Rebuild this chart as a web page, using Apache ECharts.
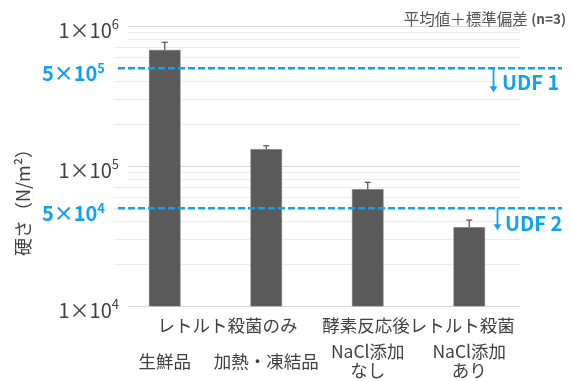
<!DOCTYPE html>
<html>
<head>
<meta charset="utf-8">
<script src="https://cdn.jsdelivr.net/npm/echarts@6/dist/echarts.min.js"></script>
<style>
  html, body { margin: 0; padding: 0; background: #ffffff; }
  #chart { width: 573px; height: 381px; }
</style>
</head>
<body>
<div id="chart"></div>
<script>
// Samples (lower label row) and their processing groups (upper label row)
const samples = ['生鮮品', '加熱・凍結品', 'NaCl添加\nなし', 'NaCl添加\nあり'];
const groups = ['レトルト殺菌のみ', '酵素反応後レトルト殺菌'];

// Hardness (N/m²): mean and standard deviation, n = 3
const hardness = [674000, 132000, 68200, 36500];
const hardnessSD = [91000, 7500, 8300, 4600];

// Logarithmic gridlines
const majorTicks = [1e4, 1e5, 1e6];
const minorTicks = [2e4, 3e4, 4e4, 5e4, 6e4, 7e4, 8e4, 9e4,
                    2e5, 3e5, 4e5, 5e5, 6e5, 7e5, 8e5, 9e5];

// Universal Design Food thresholds
const udfLimits = [5e5, 5e4];
const udfNames = ['UDF 1', 'UDF 2'];

const FONT = "'Noto Sans CJK JP', 'Noto Sans', sans-serif";
const TEXT = '#404040';
const BLUE = '#12a0f2';

const chart = echarts.init(document.getElementById('chart'), null, { renderer: 'canvas' });

const option = {
  animation: false,
  backgroundColor: '#ffffff',
  textStyle: { fontFamily: FONT },
  title: {
    right: 2,
    top: 6,
    text: '{a|平均値＋標準偏差 }{b|(n=3)}',
    textStyle: {
      fontWeight: 'normal',
      rich: {
        a: { fontFamily: FONT, fontSize: 15.5, fontWeight: 'normal', color: '#555555' },
        b: { fontFamily: FONT, fontSize: 13.5, fontWeight: 'bold', color: '#555555' }
      }
    }
  },
  grid: { left: 114, right: 53, top: 26, bottom: 75, containLabel: false },
  xAxis: [
    {
      type: 'category',
      data: samples,
      axisLine: { show: false },
      axisTick: { show: false },
      axisLabel: {
        interval: 0,
        margin: 55,
        verticalAlign: 'middle',
        lineHeight: 19,
        fontSize: 17.5,
        color: TEXT,
        fontFamily: FONT
      }
    },
    {
      type: 'category',
      data: groups,
      position: 'bottom',
      axisLine: { show: false },
      axisTick: { show: false },
      splitLine: { show: false },
      axisLabel: {
        interval: 0,
        margin: 19,
        verticalAlign: 'middle',
        formatter: (v, i) => (i === 0 ? '{g0|' + v + '}' : '{g1|' + v + '}'),
        rich: {
          g0: { fontSize: 17.5, color: TEXT, fontFamily: FONT, padding: [0, 0, 0, 24] },
          g1: { fontSize: 17.5, color: TEXT, fontFamily: FONT }
        }
      }
    }
  ],
  yAxis: {
    type: 'log',
    logBase: 10,
    min: 1e4,
    max: 1e6,
    interval: 1,
    z: 2,
    name: '硬さ（N/m²）',
    nameLocation: 'middle',
    nameRotate: 90,
    nameGap: 91,
    nameTextStyle: {
      fontSize: 18,
      color: TEXT,
      fontFamily: FONT,
      align: 'center',
      verticalAlign: 'middle',
      padding: [0, 64, 0, 0]
    },
    axisLine: { show: false },
    axisTick: { show: false },
    splitLine: { show: false },
    axisLabel: {
      margin: -14,
      backgroundColor: '#ffffff',
      padding: [12, 9, 4, 2],
      formatter: (v) => {
        const e = Math.round(Math.log10(v));
        return '{m|1×10}{s|' + e + '}';
      },
      rich: {
        m: { fontSize: 20, lineHeight: 24, color: TEXT, fontFamily: FONT },
        s: { fontSize: 13, lineHeight: 15, color: TEXT, fontFamily: FONT, verticalAlign: 'top' }
      }
    }
  },
  series: [
    {
      // gridlines at every power of ten and its multiples
      type: 'line',
      z: 1,
      data: [],
      silent: true,
      markLine: {
        z: 1,
        silent: true,
        symbol: 'none',
        label: { show: false },
        animation: false,
        data: minorTicks.map(v => ({ yAxis: v, lineStyle: { color: '#ececec', width: 1, type: 'solid' } }))
          .concat(majorTicks.map(v => ({ yAxis: v, lineStyle: { color: '#d6d6d6', width: 1, type: 'solid' } })))
      }
    },
    {
      name: '硬さ',
      type: 'bar',
      z: 3,
      data: hardness,
      barWidth: '31%',
      itemStyle: { color: '#5a5a5a', borderColor: '#707070', borderWidth: 0.6 }
    },
    {
      // upper error bars (mean + SD)
      type: 'custom',
      z: 4,
      data: hardness.map((v, i) => [i, v, v + hardnessSD[i]]),
      encode: { x: 0, y: [1, 2] },
      renderItem: (params, api) => {
        const base = api.coord([api.value(0), api.value(1)]);
        const top = api.coord([api.value(0), api.value(2)]);
        const style = { stroke: '#5a5a5a', lineWidth: 1.3 };
        return {
          type: 'group',
          children: [
            { type: 'line', shape: { x1: base[0], y1: base[1], x2: top[0], y2: top[1] }, style },
            { type: 'line', shape: { x1: top[0] - 3, y1: top[1], x2: top[0] + 3, y2: top[1] }, style }
          ]
        };
      }
    }
  ]
};

chart.setOption(option);

// Threshold lines, their value labels and UDF arrows, placed through the y scale
const arrowX = [493.5, 497.5];
const arrowLen = [24, 22];
const nameX = [494, 497];
const nameDy = [14, 15];
const graphics = [];
udfLimits.forEach((limit, i) => {
  const y = chart.convertToPixel({ yAxisIndex: 0 }, limit);
  const e = Math.floor(Math.log10(limit) + 1e-9);
  const mant = Math.round(limit / Math.pow(10, e));
  graphics.push({
    type: 'text', z: 20,
    style: {
      x: nameX[i], y: y + nameDy[i],
      text: udfNames[i],
      fill: BLUE, font: 'bold 20px ' + FONT,
      verticalAlign: 'middle', align: 'left',
      backgroundColor: '#ffffff', padding: [4, 2, 4, 8]
    }
  });
  graphics.push({
    type: 'line', z: 21,
    shape: { x1: 118, y1: y, x2: 562, y2: y },
    style: { stroke: BLUE, lineWidth: 2.5, lineDash: [7, 3] }
  });
  graphics.push({
    type: 'text', z: 21,
    style: {
      x: 105, y: y + 5.5,
      text: '{m|' + mant + '×10}{s|' + e + '}',
      align: 'right', verticalAlign: 'middle',
      rich: {
        m: { fontSize: 20, lineHeight: 24, fontWeight: 'bold', fill: BLUE, fontFamily: FONT },
        s: { fontSize: 13, lineHeight: 15, fontWeight: 'bold', fill: BLUE, fontFamily: FONT, verticalAlign: 'top' }
      }
    }
  });
  graphics.push({
    type: 'line', z: 21,
    shape: { x1: arrowX[i], y1: y, x2: arrowX[i], y2: y + arrowLen[i] - 4 },
    style: { stroke: BLUE, lineWidth: 1.8 }
  });
  graphics.push({
    type: 'polygon', z: 21,
    shape: { points: [[arrowX[i] - 3.8, y + arrowLen[i] - 6], [arrowX[i] + 3.8, y + arrowLen[i] - 6], [arrowX[i], y + arrowLen[i]]] },
    style: { fill: BLUE }
  });
});
chart.setOption({ graphic: graphics });
</script>
</body>
</html>
